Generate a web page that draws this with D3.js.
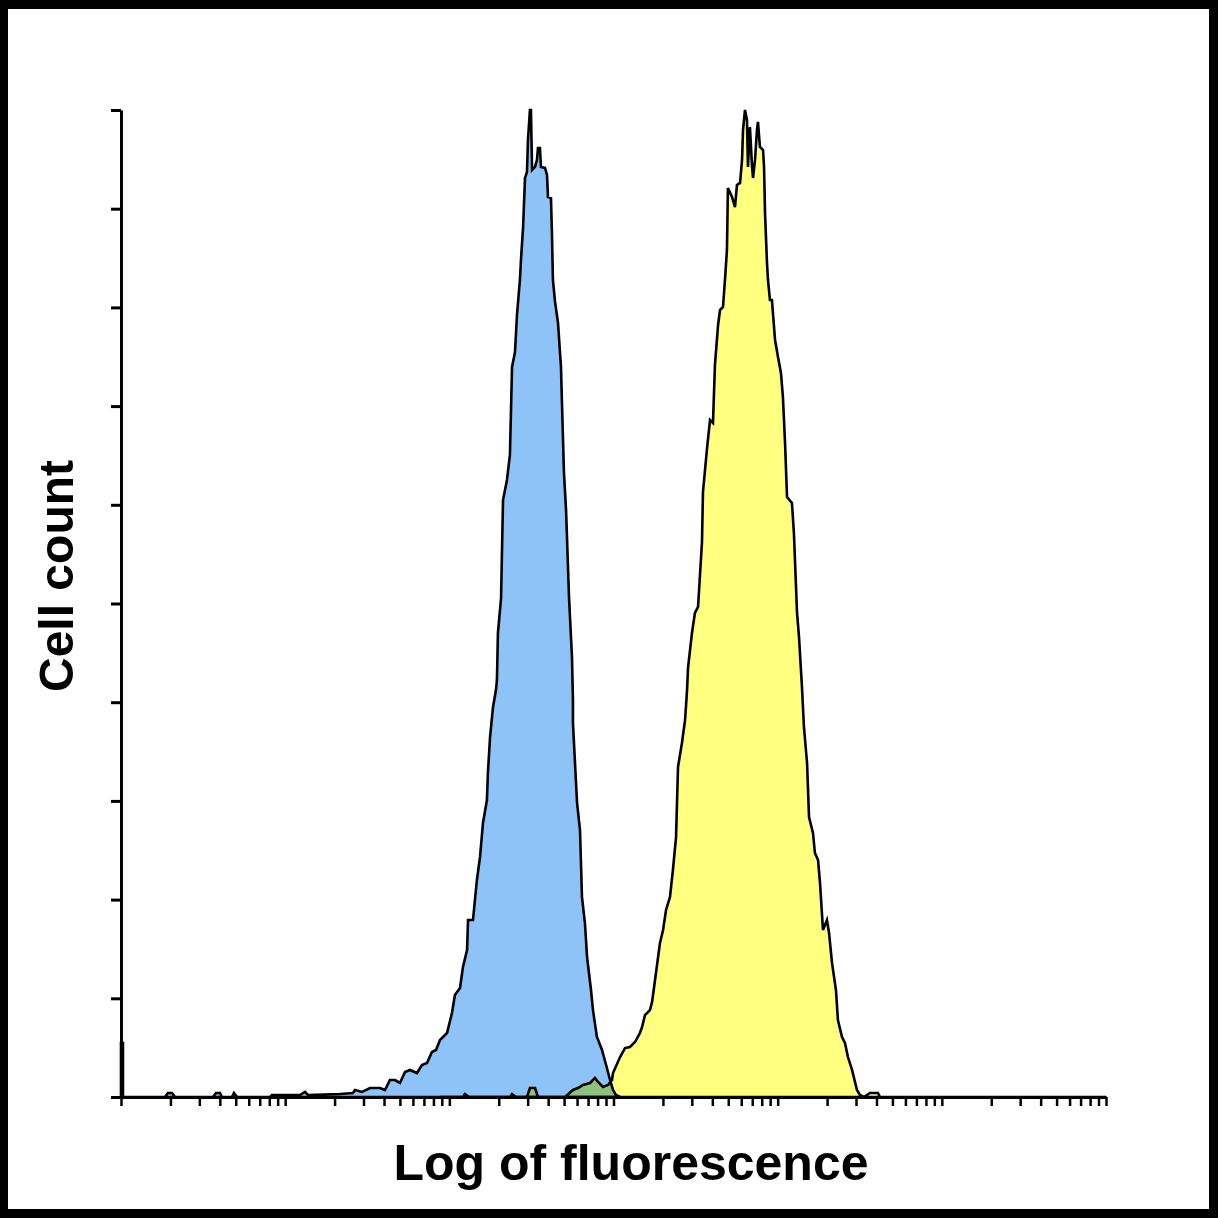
<!DOCTYPE html>
<html>
<head>
<meta charset="utf-8">
<script src="https://cdn.jsdelivr.net/npm/d3@7"></script>
<style>
  html, body { margin: 0; padding: 0; background: #fff; }
  svg { display: block; }
  .axis path, .axis line { stroke: #000; }
</style>
</head>
<body>
<div id="chart"></div>
<script>
// histogram outlines: x as log10(fluorescence), y as cell count
const blueLogX = [0, 0, 0.012, 0.012,
  0.268, 0.286, 0.311, 0.329, 0.560, 0.579, 0.603, 0.615, 0.676, 0.688, 0.707,
  0.908, 0.920, 1.090, 1.121, 1.139, 1.334, 1.413, 1.425, 1.468, 1.517, 1.578, 1.608,
  1.638, 1.669, 1.699, 1.730, 1.760, 1.803, 1.833, 1.864, 1.894, 1.919, 1.943, 1.986,
  2.016, 2.034, 2.065, 2.083, 2.108, 2.114, 2.144, 2.168, 2.187, 2.205, 2.229, 2.235,
  2.248, 2.266, 2.284, 2.290, 2.296, 2.315, 2.327, 2.351, 2.369, 2.382, 2.400, 2.412,
  2.430, 2.437, 2.449, 2.461, 2.473, 2.479, 2.491, 2.497, 2.504, 2.522, 2.534, 2.540,
  2.552, 2.558, 2.583, 2.595, 2.601, 2.619, 2.625, 2.631, 2.644, 2.662, 2.680, 2.698,
  2.711, 2.729, 2.747, 2.753, 2.753, 2.778, 2.796, 2.808, 2.826, 2.839, 2.863, 2.875,
  2.899, 2.930, 2.960, 2.979, 2.997, 3.015, 3.040];
const blueCount = [0, 54.7, 54.7, 0,
  0, 4.1, 4.1, 0, 0, 4.1, 4.1, 0, 0, 4.1, 0,
  0, 2.0, 2.0, 5.1, 2.0, 3.0, 4.1, 7.1, 5.1, 9.1, 9.1, 7.1,
  17.2, 17.2, 14.2, 25.3, 27.4, 24.3, 32.4, 34.4, 45.6, 47.6, 57.8, 64.8,
  85.1, 103.3, 110.4, 131.7, 148.9, 179.3, 179.3, 219.9, 243.2, 277.6, 300.9, 328.3,
  364.7, 395.1, 412.3, 422.5, 470.1, 505.5, 604.8, 625.1, 650.5, 739.6, 754.8, 792.3,
  827.8, 850.1, 880.5, 931.2, 937.2, 969.6, 1000, 1000, 939.2, 942.3, 949.4, 961.5,
  961.5, 942.3, 941.3, 934.2, 911.9, 910.9, 875.4, 827.8, 805.5, 784.2, 739.6, 633.3,
  594.7, 506.6, 445.8, 402.2, 378.9, 297.9, 270.5, 202.6, 176.3, 141.8, 108.4, 88.1,
  60.8, 47.6, 29.4, 17.2, 7.1, 2.0, 0];

const yellowLogX = [1.943, 2.083, 2.095, 2.120, 2.370, 2.382, 2.406, 2.473, 2.491, 2.522,
  2.540, 2.705, 2.753, 2.784, 2.814, 2.857, 2.887, 2.906, 2.936, 2.966, 2.991, 2.997,
  3.040, 3.070, 3.100, 3.131, 3.161, 3.174, 3.192, 3.222, 3.235, 3.253, 3.283, 3.302,
  3.320, 3.344, 3.362, 3.381, 3.393, 3.417, 3.436, 3.448, 3.454, 3.478, 3.496, 3.515,
  3.539, 3.545, 3.570, 3.588, 3.606, 3.618, 3.637, 3.649, 3.667, 3.679, 3.691, 3.697,
  3.722, 3.740, 3.752, 3.771, 3.783, 3.789, 3.801, 3.813, 3.819, 3.831, 3.844, 3.850,
  3.862, 3.874, 3.880, 3.892, 3.911, 3.917, 3.923, 3.935, 3.941, 3.953, 3.965, 3.984,
  4.002, 4.020, 4.032, 4.045, 4.057, 4.087, 4.099, 4.118, 4.130, 4.148, 4.160, 4.179,
  4.191, 4.215, 4.227, 4.246, 4.258, 4.276, 4.300, 4.313, 4.331, 4.355, 4.367, 4.392,
  4.410, 4.428, 4.453, 4.483, 4.501, 4.526, 4.562, 4.611, 4.623, 6.0];
const yellowCount = [0, 0, 3.0, 0, 0, 3.0, 0, 0, 9.1, 9.1,
  0, 0, 7.1, 9.1, 12.2, 14.2, 19.3, 15.2, 10.1, 12.2, 17.2, 24.3,
  40.5, 49.6, 50.7, 55.7, 64.8, 70.9, 83.1, 88.1, 96.3, 118.5, 156.0, 169.2,
  189.5, 202.6, 230.0, 263.4, 334.4, 358.7, 382.0, 412.3, 434.7, 470.1, 490.4, 496.5,
  562.3, 613.0, 657.6, 685.9, 682.9, 741.7, 782.2, 797.4, 800.4, 827.8, 858.2, 921.0,
  911.9, 901.7, 924.0, 926.1, 949.4, 979.8, 1000, 989.9, 942.3, 982.8, 942.3, 931.1,
  949.4, 979.8, 987.9, 962.5, 959.5, 942.3, 895.7, 845.0, 827.8, 807.5, 807.5, 767.0,
  749.8, 733.6, 709.2, 662.6, 607.9, 601.8, 571.4, 490.4, 466.1, 415.4, 374.9, 338.4,
  283.7, 267.5, 247.2, 240.1, 216.8, 169.2, 179.3, 166.2, 135.8, 108.4, 78.0, 60.8,
  54.7, 40.5, 27.4, 7.1, 2.0, 0, 4.1, 4.1, 0, 0];

// axis ticks
const decades = [1, 10, 100, 1000, 10000, 100000];
const minorSteps = [1, 2, 3, 4, 5, 6, 7, 8, 9];
const countTicks = [0, 100, 200, 300, 400, 500, 600, 700, 800, 900, 1000];

const xLabel = 'Log of fluorescence';
const yLabel = 'Cell count';

(function () {
  const width = 1218,
    height = 1218,
    plot = { left: 121, right: 1106, top: 110, bottom: 1097 };

  const svg = d3
    .select('#chart')
    .append('svg')
    .attr('width', width)
    .attr('height', height);

  // black frame
  svg.append('rect').attr('width', width).attr('height', height).attr('fill', '#000');
  svg
    .append('rect')
    .attr('x', 8)
    .attr('y', 9)
    .attr('width', 1201)
    .attr('height', 1200)
    .attr('fill', '#fff');

  const x = d3.scaleLog().domain([1, 1e6]).range([plot.left, plot.right]);
  const y = d3.scaleLinear().domain([0, 1000]).range([plot.bottom, plot.top]);

  const blue = blueLogX.map((v, i) => [v, blueCount[i]]);
  const yellow = yellowLogX.map((v, i) => [v, yellowCount[i]]);

  const area = d3
    .area()
    .x(d => x(Math.pow(10, d[0])))
    .y0(y(0))
    .y1(d => y(d[1]));

  svg
    .append('path')
    .datum(blue)
    .attr('d', area)
    .attr('fill', '#8dc3f7')
    .attr('stroke', '#000')
    .attr('stroke-width', 2.6);

  // yellow sits over the blue tail, multiply gives the greenish overlap
  svg
    .append('path')
    .datum(yellow)
    .attr('d', area)
    .attr('fill', '#ffff80')
    .style('mix-blend-mode', 'multiply')
    .attr('stroke', '#000')
    .attr('stroke-width', 2.6);

  // Add the X-axis, log ticks without labels
  const xTicks = [];
  decades.forEach(dec => minorSteps.forEach(m => xTicks.push(dec * m)));
  xTicks.push(1e6);

  svg
    .append('g')
    .attr('class', 'x axis')
    .attr('transform', `translate(0, ${plot.bottom})`)
    .call(
      d3.axisBottom(x).tickValues(xTicks).tickFormat('').tickSize(9).tickSizeOuter(0)
    )
    .call(g => g.select('.domain').attr('stroke-width', 3))
    .call(g => g.selectAll('.tick line').attr('stroke-width', 2.5));

  // Add the Y-axis
  svg
    .append('g')
    .attr('class', 'y axis')
    .attr('transform', `translate(${plot.left}, 0)`)
    .call(
      d3.axisLeft(y).tickValues(countTicks).tickFormat('').tickSize(10).tickSizeOuter(0)
    )
    .call(g => g.select('.domain').attr('stroke-width', 3))
    .call(g => g.selectAll('.tick line').attr('stroke-width', 3));

  svg
    .append('text')
    .attr('x', 631)
    .attr('y', 1180)
    .attr('text-anchor', 'middle')
    .attr('font-family', '"Liberation Sans", Arial, sans-serif')
    .attr('font-weight', 'bold')
    .attr('font-size', 50)
    .text(xLabel);

  svg
    .append('text')
    .attr('transform', 'translate(73, 576) rotate(-90)')
    .attr('text-anchor', 'middle')
    .attr('font-family', '"Liberation Sans", Arial, sans-serif')
    .attr('font-weight', 'bold')
    .attr('font-size', 48)
    .text(yLabel);
})();
</script>
</body>
</html>
